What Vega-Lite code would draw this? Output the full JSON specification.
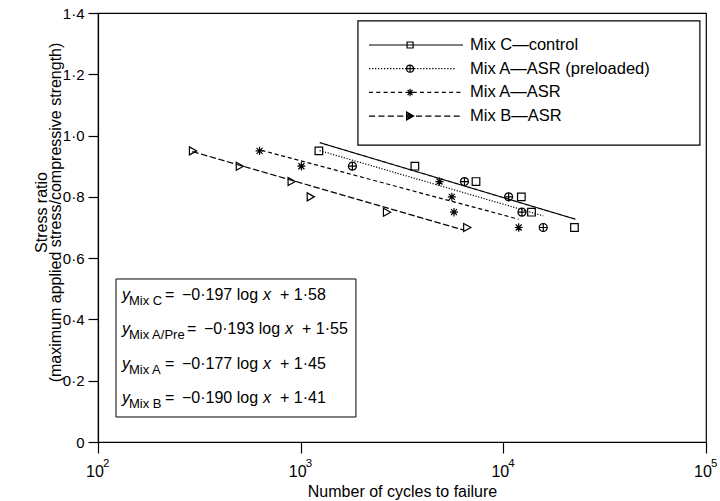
{
  "$schema": "https://vega.github.io/schema/vega-lite/v6.json",
  "width": 608,
  "height": 429,
  "autosize": "none",
  "padding": {"left": 98, "top": 13, "right": 14, "bottom": 59},
  "config": {
    "font": "Liberation Sans",
    "view": {"stroke": "black", "strokeWidth": 1.2},
    "axis": {"domainColor": "black", "tickColor": "black", "domainWidth": 1.2, "tickWidth": 1.2, "labelColor": "black", "titleColor": "black", "titleFontWeight": "normal", "grid": false}
  },
  "resolve": {"scale": {"shape": "independent"}},
  "datasets": {
    "points": [
      {"mix": "Mix C—control", "cycles": 1230, "ratio": 0.95},
      {"mix": "Mix C—control", "cycles": 3660, "ratio": 0.90},
      {"mix": "Mix C—control", "cycles": 7330, "ratio": 0.85},
      {"mix": "Mix C—control", "cycles": 12270, "ratio": 0.80},
      {"mix": "Mix C—control", "cycles": 13770, "ratio": 0.75},
      {"mix": "Mix C—control", "cycles": 22440, "ratio": 0.70},
      {"mix": "Mix A—ASR (preloaded)", "cycles": 1800, "ratio": 0.90},
      {"mix": "Mix A—ASR (preloaded)", "cycles": 6430, "ratio": 0.85},
      {"mix": "Mix A—ASR (preloaded)", "cycles": 10620, "ratio": 0.80},
      {"mix": "Mix A—ASR (preloaded)", "cycles": 12360, "ratio": 0.75},
      {"mix": "Mix A—ASR (preloaded)", "cycles": 15740, "ratio": 0.70},
      {"mix": "Mix A—ASR", "cycles": 627, "ratio": 0.95},
      {"mix": "Mix A—ASR", "cycles": 1008, "ratio": 0.90},
      {"mix": "Mix A—ASR", "cycles": 4840, "ratio": 0.85},
      {"mix": "Mix A—ASR", "cycles": 5570, "ratio": 0.80},
      {"mix": "Mix A—ASR", "cycles": 5710, "ratio": 0.75},
      {"mix": "Mix A—ASR", "cycles": 11910, "ratio": 0.70},
      {"mix": "Mix B—ASR", "cycles": 293, "ratio": 0.95},
      {"mix": "Mix B—ASR", "cycles": 499, "ratio": 0.90},
      {"mix": "Mix B—ASR", "cycles": 899, "ratio": 0.85},
      {"mix": "Mix B—ASR", "cycles": 1117, "ratio": 0.80},
      {"mix": "Mix B—ASR", "cycles": 2655, "ratio": 0.75},
      {"mix": "Mix B—ASR", "cycles": 6607, "ratio": 0.70}
    ],
    "fits": [
      {"series": "C", "cycles": 1242, "ratio": 0.977},
      {"series": "C", "cycles": 22700, "ratio": 0.727},
      {"series": "APre", "cycles": 1240, "ratio": 0.951},
      {"series": "APre", "cycles": 15740, "ratio": 0.738},
      {"series": "A", "cycles": 641, "ratio": 0.952},
      {"series": "A", "cycles": 11900, "ratio": 0.727},
      {"series": "B", "cycles": 292, "ratio": 0.948},
      {"series": "B", "cycles": 6340, "ratio": 0.692}
    ],
    "exponents": [
      {"cycles": 100, "e": "2"},
      {"cycles": 1000, "e": "3"},
      {"cycles": 10000, "e": "4"},
      {"cycles": 100000, "e": "5"}
    ]
  },
  "layer": [
    {
      "data": {"name": "fits"},
      "mark": {"type": "line", "color": "black", "strokeWidth": 1.2},
      "encoding": {
        "x": {"field": "cycles", "type": "quantitative", "scale": {"type": "log", "domain": [100, 100000]}, "title": "Number of cycles to failure"},
        "y": {"field": "ratio", "type": "quantitative", "scale": {"domain": [0, 1.4]}, "title": ["Stress ratio", "(maximum applied stress/compressive strength)"]},
        "detail": {"field": "series"},
        "strokeDash": {"field": "series", "type": "nominal", "legend": null,
          "scale": {"domain": ["C", "APre", "A", "B"], "range": [[1, 0], [1.2, 1.6], [4, 2.8], [6.5, 2.5]]}}
      }
    },
    {
      "data": {"name": "points"},
      "mark": {"type": "point", "filled": false, "color": "black", "size": 64, "strokeWidth": 1.2, "opacity": 1},
      "encoding": {
        "x": {"field": "cycles", "type": "quantitative", "title": "Number of cycles to failure",
          "axis": {"values": [100, 1000, 10000, 100000], "labelExpr": "'10'", "labelFontSize": 16, "tickSize": 11, "labelPadding": 10, "labelOffset": -3.5, "titleFontSize": 16, "titleY": 54, "titleBaseline": "alphabetic", "labelFlush": false}},
        "y": {"field": "ratio", "type": "quantitative", "title": ["Stress ratio", "(maximum applied stress/compressive strength)"],
          "axis": {"values": [0, 0.2, 0.4, 0.6, 0.8, 1.0, 1.2, 1.4], "labelExpr": "datum.value == 0 ? '0' : replace(format(datum.value, '.1f'), '.', '·')", "labelFontSize": 15, "tickSize": 10, "labelPadding": 4, "titleFontSize": 16, "titleX": -52, "titleY": 199, "titleBaseline": "alphabetic", "titleLineHeight": 14, "labelFlush": false}},
        "shape": {"field": "mix", "type": "nominal", "legend": null,
          "scale": {"domain": ["Mix C—control", "Mix A—ASR (preloaded)", "Mix A—ASR", "Mix B—ASR"],
            "range": ["M-0.95,-0.95H0.95V0.95H-0.95Z", "M-1,0A1,1,0,1,1,1,0A1,1,0,1,1,-1,0ZM-1,0H1M0,-1V1", "M-1,0H1M0,-1.05V1.05M-0.75,-0.75L0.75,0.75M-0.75,0.75L0.75,-0.75", "M-0.8,-1L1,0L-0.8,1Z"]}
        }
      }
    },
    {
      "data": {"values": [{}]},
      "mark": {"type": "rect", "fill": "white", "stroke": "black", "strokeWidth": 1.2},
      "encoding": {"x": {"datum": 1917, "type": "quantitative"}, "x2": {"datum": 93300}, "y": {"datum": 1.374, "type": "quantitative"}, "y2": {"datum": 0.969}}
    },
    {
      "data": {"values": []},
      "mark": {"type": "point", "filled": false, "color": "black", "strokeWidth": 1.2, "opacity": 1},
      "encoding": {
        "x": {"field": "cycles", "type": "quantitative"},
        "y": {"field": "ratio", "type": "quantitative"},
        "shape": {"field": "mix", "type": "nominal",
          "scale": {"domain": ["Mix C—control", "Mix A—ASR (preloaded)", "Mix A—ASR", "Mix B—ASR"],
            "range": [
              "M-1,0H1M-0.19,-0.064H-0.062V0.064H-0.19Z",
              "M-1,0h0.028m0.036,0h0.028m0.036,0h0.028m0.036,0h0.028m0.036,0h0.028m0.036,0h0.028m0.036,0h0.028m0.036,0h0.028m0.036,0h0.028m0.036,0h0.028m0.036,0h0.028m0.036,0h0.028m0.036,0h0.028m0.036,0h0.028m0.036,0h0.028m0.036,0h0.028m0.036,0h0.028m0.036,0h0.028m0.036,0h0.028m0.036,0h0.028m0.036,0h0.028m0.036,0h0.028m0.036,0h0.028m0.036,0h0.028m0.036,0h0.028m0.036,0h0.028m0.036,0h0.028m0.036,0h0.028m0.036,0h0.028m0.036,0M-0.2,0A0.074,0.074,0,1,1,-0.052,0A0.074,0.074,0,1,1,-0.2,0M-0.126,-0.074V0.074M-0.2,0H-0.052",
              "M-1,0h0.085m0.07,0h0.085m0.07,0h0.085m0.07,0h0.085m0.07,0h0.085m0.07,0h0.085m0.07,0h0.085m0.07,0h0.085m0.07,0h0.085m0.07,0h0.085m0.07,0h0.085m0.07,0h0.085m0.07,0h0.085m0.07,0M-0.2,0H-0.052M-0.126,-0.08V0.08M-0.178,-0.055L-0.074,0.055M-0.178,0.055L-0.074,-0.055",
              "M-1,0h0.13m0.07,0h0.13m0.07,0h0.13m0.07,0h0.13m0.07,0h0.13m0.07,0h0.13m0.07,0h0.13m0.07,0h0.13m0.07,0h0.13m0.07,0h0.13m0.07,0M-0.2,-0.085L-0.05,0L-0.2,0.085ZM-0.17,-0.05L-0.09,0L-0.17,0.05Z"
            ]},
          "legend": {
            "title": null, "orient": "none", "legendX": 270, "legendY": 22, "padding": 0,
            "symbolSize": 8836, "clipHeight": 20, "rowPadding": 3.7, "labelOffset": 6,
            "labelFontSize": 16.5, "labelColor": "black", "labelLimit": 400,
            "symbolStrokeColor": "black", "symbolStrokeWidth": 1.2, "symbolFillColor": "transparent", "symbolOpacity": 1
          }
        }
      }
    },
    {
      "data": {"name": "exponents"},
      "mark": {"type": "text", "align": "left", "baseline": "alphabetic", "fontSize": 11.5, "dx": 5, "color": "black"},
      "encoding": {"text": {"field": "e"}, "x": {"field": "cycles", "type": "quantitative"}, "y": {"datum": -0.0816, "type": "quantitative"}}
    },
    {
      "data": {"values": [{}]},
      "mark": {"type": "rect", "fill": "white", "stroke": "black", "strokeWidth": 1},
      "encoding": {"x": {"datum": 122.7, "type": "quantitative"}, "x2": {"datum": 1874}, "y": {"datum": 0.532, "type": "quantitative"}, "y2": {"datum": 0.0816}}
    },
    {"data": {"values": [{"t": "y"}]}, "mark": {"type": "text", "align": "left", "baseline": "middle", "fontSize": 16, "fontStyle": "italic", "color": "black"}, "encoding": {"text": {"field": "t"}, "x": {"datum": 131.35, "type": "quantitative"}, "y": {"datum": 0.4798, "type": "quantitative"}}},
    {"data": {"values": [{"t": "Mix C"}]}, "mark": {"type": "text", "align": "left", "baseline": "middle", "fontSize": 13, "dy": 6, "color": "black"}, "encoding": {"text": {"field": "t"}, "x": {"datum": 142.2, "type": "quantitative"}, "y": {"datum": 0.4798, "type": "quantitative"}}},
    {"data": {"values": [{"t": "="}]}, "mark": {"type": "text", "align": "left", "baseline": "middle", "fontSize": 16, "color": "black"}, "encoding": {"text": {"field": "t"}, "x": {"datum": 214.1, "type": "quantitative"}, "y": {"datum": 0.4798, "type": "quantitative"}}},
    {"data": {"values": [{"t": "−0·197 log"}]}, "mark": {"type": "text", "align": "left", "baseline": "middle", "fontSize": 16, "color": "black"}, "encoding": {"text": {"field": "t"}, "x": {"datum": 259.7, "type": "quantitative"}, "y": {"datum": 0.4798, "type": "quantitative"}}},
    {"data": {"values": [{"t": "x"}]}, "mark": {"type": "text", "align": "left", "baseline": "middle", "fontSize": 16, "fontStyle": "italic", "color": "black"}, "encoding": {"text": {"field": "t"}, "x": {"datum": 651.7, "type": "quantitative"}, "y": {"datum": 0.4798, "type": "quantitative"}}},
    {"data": {"values": [{"t": "+ 1·58"}]}, "mark": {"type": "text", "align": "left", "baseline": "middle", "fontSize": 16, "color": "black"}, "encoding": {"text": {"field": "t"}, "x": {"datum": 790.6, "type": "quantitative"}, "y": {"datum": 0.4798, "type": "quantitative"}}},

    {"data": {"values": [{"t": "y"}]}, "mark": {"type": "text", "align": "left", "baseline": "middle", "fontSize": 16, "fontStyle": "italic", "color": "black"}, "encoding": {"text": {"field": "t"}, "x": {"datum": 131.35, "type": "quantitative"}, "y": {"datum": 0.3688, "type": "quantitative"}}},
    {"data": {"values": [{"t": "Mix A/Pre"}]}, "mark": {"type": "text", "align": "left", "baseline": "middle", "fontSize": 13, "dy": 6, "color": "black"}, "encoding": {"text": {"field": "t"}, "x": {"datum": 142.2, "type": "quantitative"}, "y": {"datum": 0.3688, "type": "quantitative"}}},
    {"data": {"values": [{"t": "="}]}, "mark": {"type": "text", "align": "left", "baseline": "middle", "fontSize": 16, "color": "black"}, "encoding": {"text": {"field": "t"}, "x": {"datum": 274.9, "type": "quantitative"}, "y": {"datum": 0.3688, "type": "quantitative"}}},
    {"data": {"values": [{"t": "−0·193 log"}]}, "mark": {"type": "text", "align": "left", "baseline": "middle", "fontSize": 16, "color": "black"}, "encoding": {"text": {"field": "t"}, "x": {"datum": 333.4, "type": "quantitative"}, "y": {"datum": 0.3688, "type": "quantitative"}}},
    {"data": {"values": [{"t": "x"}]}, "mark": {"type": "text", "align": "left", "baseline": "middle", "fontSize": 16, "fontStyle": "italic", "color": "black"}, "encoding": {"text": {"field": "t"}, "x": {"datum": 836.8, "type": "quantitative"}, "y": {"datum": 0.3688, "type": "quantitative"}}},
    {"data": {"values": [{"t": "+ 1·55"}]}, "mark": {"type": "text", "align": "left", "baseline": "middle", "fontSize": 16, "color": "black"}, "encoding": {"text": {"field": "t"}, "x": {"datum": 1014.9, "type": "quantitative"}, "y": {"datum": 0.3688, "type": "quantitative"}}},

    {"data": {"values": [{"t": "y"}]}, "mark": {"type": "text", "align": "left", "baseline": "middle", "fontSize": 16, "fontStyle": "italic", "color": "black"}, "encoding": {"text": {"field": "t"}, "x": {"datum": 131.35, "type": "quantitative"}, "y": {"datum": 0.2546, "type": "quantitative"}}},
    {"data": {"values": [{"t": "Mix A"}]}, "mark": {"type": "text", "align": "left", "baseline": "middle", "fontSize": 13, "dy": 6, "color": "black"}, "encoding": {"text": {"field": "t"}, "x": {"datum": 142.2, "type": "quantitative"}, "y": {"datum": 0.2546, "type": "quantitative"}}},
    {"data": {"values": [{"t": "="}]}, "mark": {"type": "text", "align": "left", "baseline": "middle", "fontSize": 16, "color": "black"}, "encoding": {"text": {"field": "t"}, "x": {"datum": 214.1, "type": "quantitative"}, "y": {"datum": 0.2546, "type": "quantitative"}}},
    {"data": {"values": [{"t": "−0·177 log"}]}, "mark": {"type": "text", "align": "left", "baseline": "middle", "fontSize": 16, "color": "black"}, "encoding": {"text": {"field": "t"}, "x": {"datum": 259.7, "type": "quantitative"}, "y": {"datum": 0.2546, "type": "quantitative"}}},
    {"data": {"values": [{"t": "x"}]}, "mark": {"type": "text", "align": "left", "baseline": "middle", "fontSize": 16, "fontStyle": "italic", "color": "black"}, "encoding": {"text": {"field": "t"}, "x": {"datum": 651.7, "type": "quantitative"}, "y": {"datum": 0.2546, "type": "quantitative"}}},
    {"data": {"values": [{"t": "+ 1·45"}]}, "mark": {"type": "text", "align": "left", "baseline": "middle", "fontSize": 16, "color": "black"}, "encoding": {"text": {"field": "t"}, "x": {"datum": 790.6, "type": "quantitative"}, "y": {"datum": 0.2546, "type": "quantitative"}}},

    {"data": {"values": [{"t": "y"}]}, "mark": {"type": "text", "align": "left", "baseline": "middle", "fontSize": 16, "fontStyle": "italic", "color": "black"}, "encoding": {"text": {"field": "t"}, "x": {"datum": 131.35, "type": "quantitative"}, "y": {"datum": 0.1436, "type": "quantitative"}}},
    {"data": {"values": [{"t": "Mix B"}]}, "mark": {"type": "text", "align": "left", "baseline": "middle", "fontSize": 13, "dy": 6, "color": "black"}, "encoding": {"text": {"field": "t"}, "x": {"datum": 142.2, "type": "quantitative"}, "y": {"datum": 0.1436, "type": "quantitative"}}},
    {"data": {"values": [{"t": "="}]}, "mark": {"type": "text", "align": "left", "baseline": "middle", "fontSize": 16, "color": "black"}, "encoding": {"text": {"field": "t"}, "x": {"datum": 214.1, "type": "quantitative"}, "y": {"datum": 0.1436, "type": "quantitative"}}},
    {"data": {"values": [{"t": "−0·190 log"}]}, "mark": {"type": "text", "align": "left", "baseline": "middle", "fontSize": 16, "color": "black"}, "encoding": {"text": {"field": "t"}, "x": {"datum": 259.7, "type": "quantitative"}, "y": {"datum": 0.1436, "type": "quantitative"}}},
    {"data": {"values": [{"t": "x"}]}, "mark": {"type": "text", "align": "left", "baseline": "middle", "fontSize": 16, "fontStyle": "italic", "color": "black"}, "encoding": {"text": {"field": "t"}, "x": {"datum": 651.7, "type": "quantitative"}, "y": {"datum": 0.1436, "type": "quantitative"}}},
    {"data": {"values": [{"t": "+ 1·41"}]}, "mark": {"type": "text", "align": "left", "baseline": "middle", "fontSize": 16, "color": "black"}, "encoding": {"text": {"field": "t"}, "x": {"datum": 790.6, "type": "quantitative"}, "y": {"datum": 0.1436, "type": "quantitative"}}}
  ]
}
